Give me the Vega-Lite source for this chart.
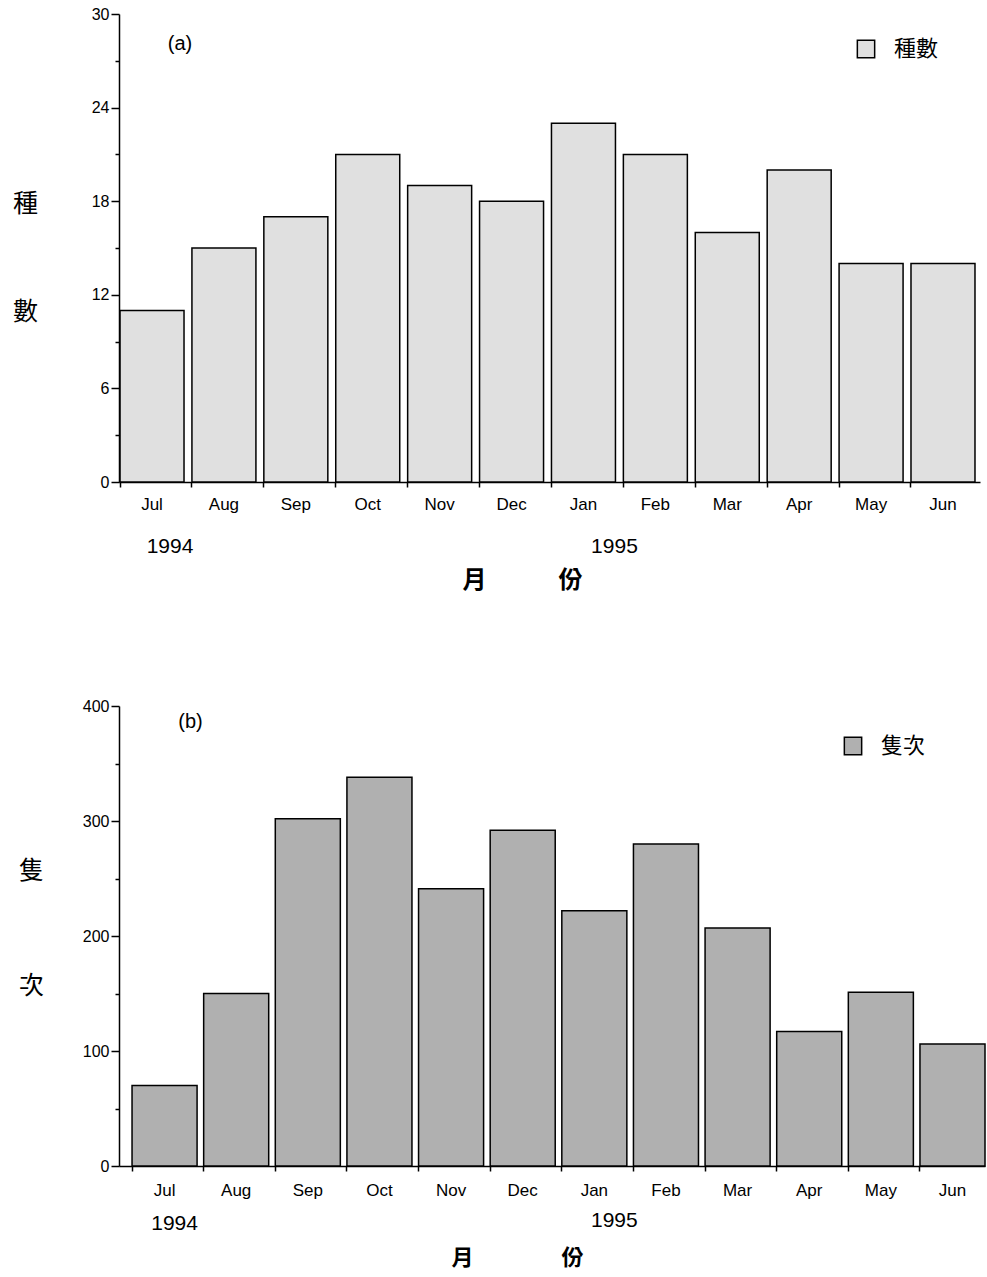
{
  "$schema": "https://vega.github.io/schema/vega-lite/v6.json",
  "background": "white",
  "padding": {"left": 12, "top": 6, "right": 0, "bottom": 2},
  "spacing": 106,
  "resolve": {"scale": {"color": "independent"}, "legend": {"color": "independent"}},
  "config": {
    "view": {"stroke": null},
    "font": "Liberation Sans",
    "axis": {
      "grid": false,
      "domainColor": "black",
      "domainWidth": 1.5,
      "tickColor": "black",
      "tickWidth": 1.5,
      "labelColor": "black",
      "titleColor": "black",
      "labelFont": "Liberation Sans",
      "titleFont": "Noto Sans CJK TC"
    }
  },
  "vconcat": [
    {
      "width": 861,
      "height": 468,
      "data": {"values": [
        {"month": "Jul", "value": 11},
        {"month": "Aug", "value": 15},
        {"month": "Sep", "value": 17},
        {"month": "Oct", "value": 21},
        {"month": "Nov", "value": 19},
        {"month": "Dec", "value": 18},
        {"month": "Jan", "value": 23},
        {"month": "Feb", "value": 21},
        {"month": "Mar", "value": 16},
        {"month": "Apr", "value": 20},
        {"month": "May", "value": 14},
        {"month": "Jun", "value": 14}
      ]},
      "layer": [
        {
          "mark": {"type": "bar", "stroke": "black", "strokeWidth": 1.5},
          "encoding": {
            "x": {
              "field": "month", "type": "nominal", "sort": null,
              "scale": {"domain": ["Jul","Aug","Sep","Oct","Nov","Dec","Jan","Feb","Mar","Apr","May","Jun"], "paddingInner": 0.11, "paddingOuter": 0.042, "align": 0.17},
              "axis": {
                "title": "月　　　份", "titleFontSize": 24, "titleFontWeight": "bold",
                "titleX": 403, "titleY": 98, "titleBaseline": "middle", "titleAlign": "center",
                "labelAngle": 0, "labelFontSize": 17, "labelPadding": 9,
                "tickSize": 5, "bandPosition": 0
              }
            },
            "y": {
              "field": "value", "type": "quantitative",
              "scale": {"domain": [0, 30]},
              "axis": {
                "values": [0, 3, 6, 9, 12, 15, 18, 21, 24, 27, 30],
                "labelExpr": "datum.value % 6 === 0 ? datum.label : ''",
                "tickSize": {"condition": {"test": "datum.value % 6 !== 0", "value": 4}, "value": 8},
                "labelFontSize": 16, "labelPadding": 2,
                "title": ["種", "數"], "titleAngle": 0, "titleFontSize": 25, "titleFontWeight": "normal",
                "titleLineHeight": 108, "titleX": -94, "titleY": 189,
                "titleAlign": "center", "titleBaseline": "middle"
              }
            },
            "color": {
              "datum": "種數",
              "scale": {"range": ["#e0e0e0"]},
              "legend": {
                "title": null, "orient": "none", "legendX": 736, "legendY": 24,
                "symbolType": "square", "symbolSize": 300, "labelFontSize": 22,
                "labelFont": "Noto Sans CJK TC", "labelColor": "black", "labelOffset": 17,
                "padding": 0,
                "symbolStrokeColor": "black", "symbolStrokeWidth": 1.5,
                "encode": {"symbols": {"update": {"stroke": {"value": "black"}, "strokeWidth": {"value": 1.5}}}}
              }
            }
          }
        },
        {
          "data": {"values": [{"month": "Jul", "year": "1994"}]},
          "mark": {"type": "text", "fontSize": 21, "dx": 18, "dy": 65, "baseline": "middle", "align": "center", "color": "black", "font": "Liberation Sans"},
          "encoding": {
            "x": {"field": "month", "type": "nominal"},
            "y": {"datum": 0},
            "text": {"field": "year"}
          }
        },
        {
          "data": {"values": [{"month": "Jan", "year": "1995"}]},
          "mark": {"type": "text", "fontSize": 21, "dx": 31, "dy": 65, "baseline": "middle", "align": "center", "color": "black", "font": "Liberation Sans"},
          "encoding": {
            "x": {"field": "month", "type": "nominal"},
            "y": {"datum": 0},
            "text": {"field": "year"}
          }
        },
        {
          "data": {"values": [{"label": "(a)"}]},
          "mark": {"type": "text", "fontSize": 20, "dx": 28, "baseline": "middle", "align": "center", "color": "black", "font": "Liberation Sans"},
          "encoding": {
            "x": {"datum": "Jul"},
            "y": {"datum": 28.1},
            "text": {"field": "label"}
          }
        }
      ]
    },
    {
      "width": 866,
      "height": 460,
      "data": {"values": [
        {"month": "Jul", "value": 70},
        {"month": "Aug", "value": 150},
        {"month": "Sep", "value": 302},
        {"month": "Oct", "value": 338},
        {"month": "Nov", "value": 241},
        {"month": "Dec", "value": 292},
        {"month": "Jan", "value": 222},
        {"month": "Feb", "value": 280},
        {"month": "Mar", "value": 207},
        {"month": "Apr", "value": 117},
        {"month": "May", "value": 151},
        {"month": "Jun", "value": 106}
      ]},
      "layer": [
        {
          "mark": {"type": "bar", "stroke": "black", "strokeWidth": 1.5},
          "encoding": {
            "x": {
              "field": "month", "type": "nominal", "sort": null,
              "scale": {"domain": ["Jul","Aug","Sep","Oct","Nov","Dec","Jan","Feb","Mar","Apr","May","Jun"], "paddingInner": 0.092, "paddingOuter": 0.091, "align": 1},
              "axis": {
                "title": "月　　　　份", "titleFontSize": 22, "titleFontWeight": "bold",
                "titleX": 398, "titleY": 91, "titleBaseline": "middle", "titleAlign": "center",
                "labelAngle": 0, "labelFontSize": 17, "labelPadding": 11,
                "tickSize": 5, "bandPosition": 0
              }
            },
            "y": {
              "field": "value", "type": "quantitative",
              "scale": {"domain": [0, 400]},
              "axis": {
                "values": [0, 50, 100, 150, 200, 250, 300, 350, 400],
                "labelExpr": "datum.value % 100 === 0 ? datum.label : ''",
                "tickSize": {"condition": {"test": "datum.value % 100 !== 0", "value": 4}, "value": 8},
                "labelFontSize": 16, "labelPadding": 2,
                "title": ["隻", "次"], "titleAngle": 0, "titleFontSize": 25, "titleFontWeight": "normal",
                "titleLineHeight": 115, "titleX": -88, "titleY": 164,
                "titleAlign": "center", "titleBaseline": "middle"
              }
            },
            "color": {
              "datum": "隻次",
              "scale": {"range": ["#b0b0b0"]},
              "legend": {
                "title": null, "orient": "none", "legendX": 723, "legendY": 29,
                "symbolType": "square", "symbolSize": 300, "labelFontSize": 22,
                "labelFont": "Noto Sans CJK TC", "labelColor": "black", "labelOffset": 17,
                "padding": 0,
                "symbolStrokeColor": "black", "symbolStrokeWidth": 1.5,
                "encode": {"symbols": {"update": {"stroke": {"value": "black"}, "strokeWidth": {"value": 1.5}}}}
              }
            }
          }
        },
        {
          "data": {"values": [{"month": "Jul", "year": "1994"}]},
          "mark": {"type": "text", "fontSize": 21, "dx": 10, "dy": 58, "baseline": "middle", "align": "center", "color": "black", "font": "Liberation Sans"},
          "encoding": {
            "x": {"field": "month", "type": "nominal"},
            "y": {"datum": 0},
            "text": {"field": "year"}
          }
        },
        {
          "data": {"values": [{"month": "Jan", "year": "1995"}]},
          "mark": {"type": "text", "fontSize": 21, "dx": 20, "dy": 55, "baseline": "middle", "align": "center", "color": "black", "font": "Liberation Sans"},
          "encoding": {
            "x": {"field": "month", "type": "nominal"},
            "y": {"datum": 0},
            "text": {"field": "year"}
          }
        },
        {
          "data": {"values": [{"label": "(b)"}]},
          "mark": {"type": "text", "fontSize": 20, "dx": 26, "baseline": "middle", "align": "center", "color": "black", "font": "Liberation Sans"},
          "encoding": {
            "x": {"datum": "Jul"},
            "y": {"datum": 386},
            "text": {"field": "label"}
          }
        }
      ]
    }
  ]
}
